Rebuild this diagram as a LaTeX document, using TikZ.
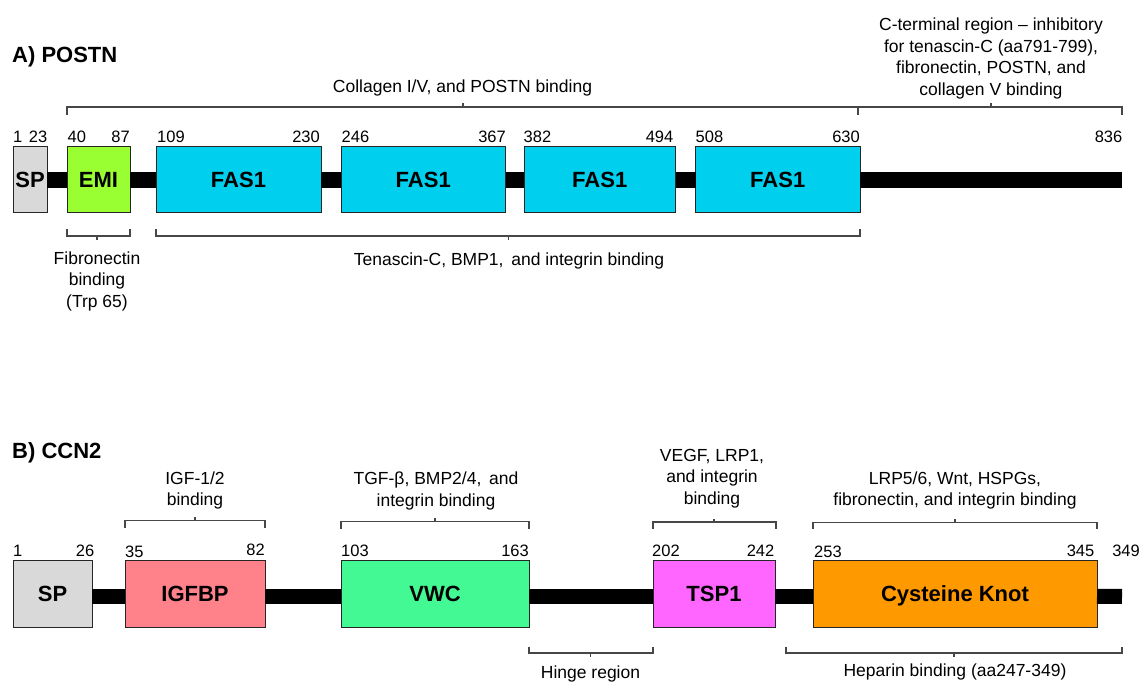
\documentclass[tikz,border=0pt]{standalone}
\usepackage{fontspec}
\setmainfont{Liberation Sans}

\definecolor{spgray}{HTML}{D9D9D9}
\definecolor{emigreen}{HTML}{99FF33}
\definecolor{fascyan}{HTML}{00CFEE}
\definecolor{igfpink}{HTML}{FF818A}
\definecolor{vwcgreen}{HTML}{42F994}
\definecolor{tspmagenta}{HTML}{FF66FF}
\definecolor{ckorange}{HTML}{FF9900}

\tikzset{
  dom/.style={draw=black!85, line width=1pt, rectangle, inner sep=0pt, outer sep=0pt,
    anchor=north west, font=\fontsize{22}{26}\selectfont\bfseries, text depth=0pt},
  bar/.style={line width=16pt, line cap=butt},
  barB/.style={line width=15pt, line cap=butt},
  brk/.style={draw=black!72, line width=1.2pt},
  num/.style={font=\fontsize{16.5}{19}\selectfont, inner sep=0pt},
  numL/.style={num, anchor=base west},
  numR/.style={num, anchor=base east},
  lbl/.style={font=\fontsize{17.5}{21.5}\selectfont, inner sep=0pt, align=center},
  ttl/.style={font=\fontsize{22}{26}\selectfont\bfseries, inner sep=0pt, anchor=base west},
}

\begin{document}
\begin{tikzpicture}[x=1pt, y=-1pt]
\useasboundingbox[fill=white] (0,0) rectangle (1144,687);

% ---------------- A) POSTN ----------------
\node[ttl] (titleA) at (12,62.5) {A) POSTN};

\node[dom, fill=spgray,    minimum width=34pt,    minimum height=66pt] (spA)   at (13,147)    {SP};
\node[dom, fill=emigreen,  minimum width=63pt,    minimum height=66pt] (emi)   at (67,147)    {EMI};
\node[dom, fill=fascyan,   minimum width=165pt,   minimum height=66pt] (fasA)  at (156,147)   {FAS1};
\node[dom, fill=fascyan,   minimum width=164.5pt, minimum height=66pt] (fasB)  at (341,147)   {FAS1};
\node[dom, fill=fascyan,   minimum width=151.5pt, minimum height=66pt] (fasC)  at (524,147)   {FAS1};
\node[dom, fill=fascyan,   minimum width=164.5pt, minimum height=66pt] (fasD)  at (695.5,147) {FAS1};
\coordinate (endA) at (1122,180);

\draw[bar] (spA.east) -- (emi.west);
\draw[bar] (emi.east) -- (fasA.west);
\draw[bar] (fasA.east) -- (fasB.west);
\draw[bar] (fasB.east) -- (fasC.west);
\draw[bar] (fasC.east) -- (fasD.west);
\draw[bar] (fasD.east) -- (endA);

% residue numbers
\node[numL] (a1)   at (13,143)    {1};
\node[numR] (a23)  at (47.5,143)  {23};
\node[numL] (a40)  at (67.5,143)  {40};
\node[numR] (a87)  at (130,143)   {87};
\node[numL] (a109) at (157,143)   {109};
\node[numR] (a230) at (320,143)   {230};
\node[numL] (a246) at (341.5,143) {246};
\node[numR] (a367) at (506,143)   {367};
\node[numL] (a382) at (523.5,143) {382};
\node[numR] (a494) at (673.5,143) {494};
\node[numL] (a508) at (695.5,143) {508};
\node[numR] (a630) at (860,143)   {630};
\node[numR] (a836) at (1122.5,143){836};

% binding brackets
\draw[brk] (67,115) -- (67,107) -- (858,107) -- (858,115) (463,107) -- (463,103);
\node[lbl, anchor=base] (collagen) at (462.5,93) {Collagen I/V, and POSTN binding};

\draw[brk] (858,115) -- (858,107) -- (1122,107) -- (1122,115) (991,107) -- (991,103.5);
\node[lbl] (cterm) at (991,58.5) {C-terminal region -- inhibitory\\for tenascin-C (aa791-799),\\fibronectin, POSTN, and\\collagen V binding};

\draw[brk] (67,229) -- (67,236) -- (130,236) -- (130,229) (97,236) -- (97,240);
\node[lbl] (fibro) at (97,281) {Fibronectin\\binding\\(Trp 65)};

\draw[brk] (156,229) -- (156,236) -- (860,236) -- (860,229) (508.5,236) -- (508.5,240);
\node[lbl, anchor=base] (tenascin) at (509,265.5) {Tenascin-C, BMP1,\, and integrin binding};

% ---------------- B) CCN2 ----------------
\node[ttl] (titleB) at (12,458.5) {B) CCN2};

\node[dom, fill=spgray,     minimum width=79pt,  minimum height=67.5pt] (spB)  at (13,560)  {SP};
\node[dom, fill=igfpink,    minimum width=140pt, minimum height=67.5pt] (igf)  at (125,560) {IGFBP};
\node[dom, fill=vwcgreen,   minimum width=188pt, minimum height=67.5pt] (vwc)  at (341,560) {VWC};
\node[dom, fill=tspmagenta, minimum width=122pt, minimum height=67.5pt] (tsp)  at (653,560) {TSP1};
\node[dom, fill=ckorange,   minimum width=284pt, minimum height=67.5pt] (ck)   at (813,560) {Cysteine Knot};
\coordinate (endB) at (1122,596.5);

\draw[barB] ([yshift=-2.5pt]spB.east) -- ([yshift=-2.5pt]igf.west);
\draw[barB] ([yshift=-2.5pt]igf.east) -- ([yshift=-2.5pt]vwc.west);
\draw[barB] ([yshift=-2.5pt]vwc.east) -- ([yshift=-2.5pt]tsp.west);
\draw[barB] ([yshift=-2.5pt]tsp.east) -- ([yshift=-2.5pt]ck.west);
\draw[barB] ([yshift=-2.5pt]ck.east) -- (endB);

% residue numbers
\node[numL] (b1)   at (13,556)     {1};
\node[numR] (b26)  at (94.5,556)   {26};
\node[numL] (b35)  at (125,557.5)  {35};
\node[numR] (b82)  at (265,555)    {82};
\node[numL] (b103) at (341,556)    {103};
\node[numR] (b163) at (529,556)    {163};
\node[numL] (b202) at (652,556)    {202};
\node[numR] (b242) at (774.5,556)  {242};
\node[numL] (b253) at (814,557.5)  {253};
\node[numR] (b345) at (1094.5,556) {345};
\node[numR] (b349) at (1140,556)   {349};

% binding brackets
\draw[brk] (125,528) -- (125,520.5) -- (265,520.5) -- (265,528) (195,520.5) -- (195,517);
\node[lbl] (igfbind) at (195,490.5) {IGF-1/2\\binding};

\draw[brk] (341,529) -- (341,521.5) -- (529,521.5) -- (529,529) (435,521.5) -- (435,518);
\node[lbl] (tgfbind) at (436,491) {TGF-β, BMP2/4,\, and\\integrin binding};

\draw[brk] (653,529) -- (653,522) -- (776,522) -- (776,529) (714,522) -- (714,518.5);
\node[lbl] (vegfbind) at (712,478.7) {VEGF, LRP1,\\and integrin\\binding};

\draw[brk] (813,529) -- (813,522.5) -- (1097,522.5) -- (1097,529) (955,522.5) -- (955,519);
\node[lbl] (lrpbind) at (955,490.7) {LRP5/6, Wnt, HSPGs,\\fibronectin, and integrin binding};

\draw[brk] (529,646.5) -- (529,653) -- (653,653) -- (653,646.5) (590.5,653) -- (590.5,657);
\node[lbl, anchor=base] (hinge) at (590.5,678) {Hinge region};

\draw[brk] (786,646.5) -- (786,653) -- (1122,653) -- (1122,646.5) (954,653) -- (954,657);
\node[lbl, anchor=base] (heparin) at (955,676.5) {Heparin binding (aa247-349)};

\end{tikzpicture}
\end{document}
